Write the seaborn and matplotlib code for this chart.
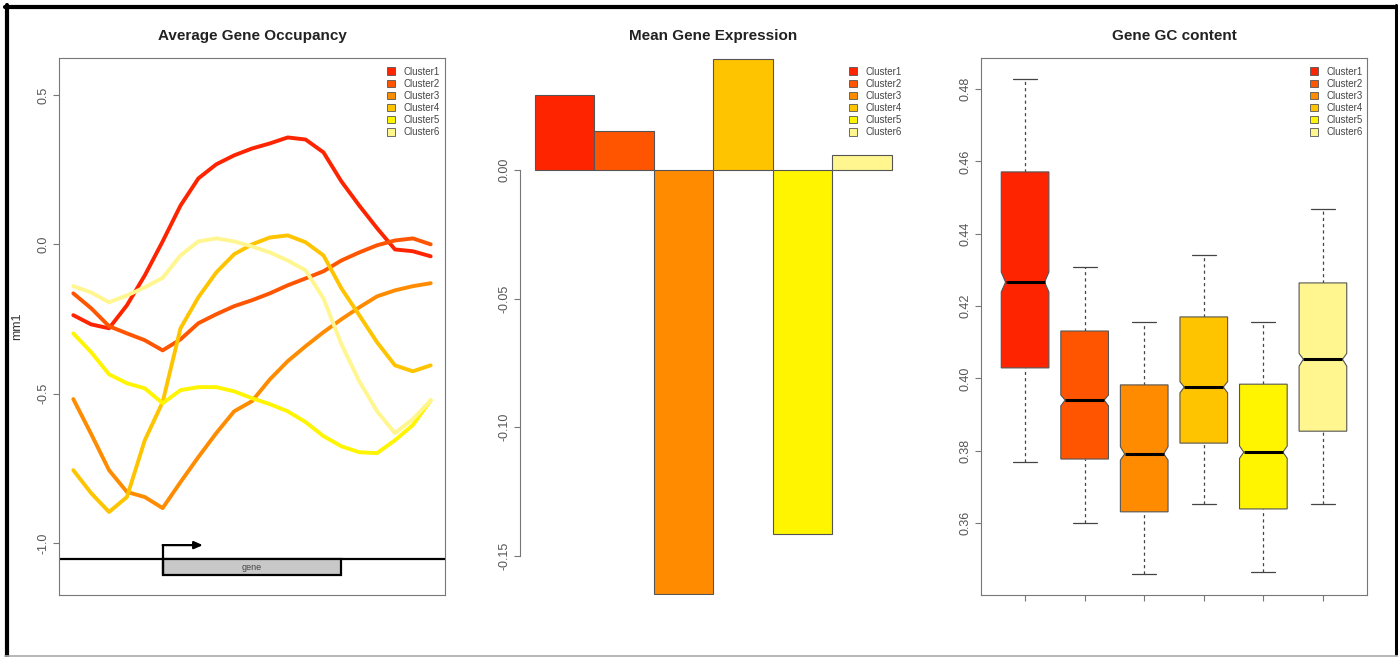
import matplotlib
matplotlib.use("Agg")
import matplotlib.pyplot as plt
from matplotlib.patches import Patch, Rectangle
from matplotlib.lines import Line2D
import pandas as pd
import seaborn as sns

# ---- data ----
clusters = ["Cluster1", "Cluster2", "Cluster3", "Cluster4", "Cluster5", "Cluster6"]
colors = ["#FF2400", "#FF5500", "#FF8C00", "#FFC400", "#FFF500", "#FFF68F"]

# average occupancy profiles (bp relative to gene start)
position = [-1000, -800, -600, -400, -200, 0, 200, 400, 600, 800, 1000,
            1200, 1400, 1600, 1800, 2000, 2200, 2400, 2600, 2800, 3000]
occ_c1 = [-0.237, -0.268, -0.281, -0.204, -0.104, 0.010, 0.130, 0.221, 0.268, 0.298, 0.321,
          0.338, 0.358, 0.351, 0.308, 0.211, 0.130, 0.054, -0.017, -0.023, -0.040]
occ_c2 = [-0.164, -0.214, -0.274, -0.298, -0.321, -0.355, -0.318, -0.264, -0.234, -0.207, -0.187,
          -0.164, -0.137, -0.114, -0.090, -0.054, -0.027, -0.003, 0.013, 0.020, 0.000]
occ_c3 = [-0.518, -0.635, -0.756, -0.829, -0.846, -0.883, -0.796, -0.712, -0.632, -0.559, -0.525,
          -0.452, -0.391, -0.341, -0.294, -0.251, -0.211, -0.174, -0.154, -0.140, -0.130]
occ_c4 = [-0.756, -0.833, -0.896, -0.846, -0.656, -0.528, -0.281, -0.177, -0.094, -0.033, 0.000,
          0.023, 0.030, 0.007, -0.037, -0.147, -0.237, -0.328, -0.405, -0.425, -0.405]
occ_c5 = [-0.298, -0.361, -0.435, -0.465, -0.482, -0.532, -0.488, -0.478, -0.478, -0.492, -0.515,
          -0.535, -0.559, -0.595, -0.642, -0.676, -0.696, -0.699, -0.656, -0.605, -0.522]
occ_c6 = [-0.140, -0.161, -0.194, -0.171, -0.144, -0.112, -0.037, 0.010, 0.020, 0.010, -0.007,
          -0.027, -0.054, -0.087, -0.181, -0.334, -0.458, -0.559, -0.632, -0.585, -0.522]
occupancy = [occ_c1, occ_c2, occ_c3, occ_c4, occ_c5, occ_c6]

# mean expression per cluster
expression = [0.0291, 0.0152, -0.1648, 0.0432, -0.1415, 0.0058]

# GC content box statistics
gc_whislo = [0.3769, 0.3600, 0.3459, 0.3653, 0.3465, 0.3653]
gc_q1 = [0.4029, 0.3777, 0.3631, 0.3821, 0.3639, 0.3854]
gc_med = [0.4266, 0.3940, 0.3791, 0.3976, 0.3796, 0.4053]
gc_q3 = [0.4571, 0.4131, 0.3982, 0.4170, 0.3984, 0.4264]
gc_whishi = [0.4828, 0.4308, 0.4156, 0.4341, 0.4156, 0.4468]
gc_cilo = [0.4239, 0.3924, 0.3774, 0.3960, 0.3779, 0.4034]
gc_cihi = [0.4294, 0.3954, 0.3811, 0.3991, 0.3813, 0.4069]

# ---- style ----
sns.set_style("white")
plt.rcParams["font.family"] = ["Liberation Sans", "DejaVu Sans"]

W, H = 1398, 657
fig = plt.figure(figsize=(W / 100, H / 100), dpi=100)


def panel(left_px):
    return fig.add_axes([left_px / W, (H - 595) / H, 386 / W, 537 / H])


ax1 = panel(59)
ax2 = panel(520)
ax3 = panel(981)

frame_col = "#777777"
tick_lab_col = "#555555"


def style_axis(ax, yticks, ylabels):
    ax.set_yticks(yticks)
    ax.set_yticklabels(ylabels, rotation=90, va="center")
    ax.tick_params(axis="y", left=True, length=4.3, width=0.8, color=frame_col,
                   labelsize=9, labelcolor=tick_lab_col, pad=2.5)
    for s in ax.spines.values():
        s.set_color(frame_col)
        s.set_linewidth(0.8)


def add_legend(ax, x):
    handles = [Patch(facecolor=c, edgecolor="#555555", linewidth=0.6, label=l)
               for c, l in zip(colors, clusters)]
    ax.legend(handles=handles, loc="upper right", bbox_to_anchor=(x, 0.984),
              frameon=False, fontsize=7, handlelength=0.85, handleheight=0.8,
              handletextpad=0.9, labelspacing=0.22, borderpad=0, borderaxespad=0,
              labelcolor="#444444")


def add_title(ax, text):
    ax.set_title(text, fontsize=11, fontweight="bold", pad=13, color="#222222")


# ---- panel 1: occupancy lines ----
occ_df = pd.DataFrame({
    "position": position * len(clusters),
    "mm1": [v for series in occupancy for v in series],
    "cluster": [c for c in clusters for _ in position],
})
sns.lineplot(data=occ_df, x="position", y="mm1", hue="cluster", palette=colors,
             linewidth=2.8, legend=False, errorbar=None, ax=ax1)

# gene diagram
gene_y = -1.0545
ax1.axhline(gene_y, color="black", lw=1.6)
ax1.add_patch(Rectangle((0, -1.107), 2000, gene_y + 1.107, facecolor="#c8c8c8",
                        edgecolor="black", lw=1.6, zorder=3))
ax1.plot([0, 0], [-1.107, -1.007], color="black", lw=1.6, zorder=4)
ax1.annotate("", xy=(450, -1.007), xytext=(0, -1.007),
             arrowprops=dict(arrowstyle="-|>,head_length=0.5,head_width=0.22",
                             color="black", lw=1.6, shrinkA=0, shrinkB=0), zorder=4)
ax1.text(1000, -1.082, "gene", ha="center", va="center", fontsize=6.5,
         color="#444444", zorder=5)

ax1.set_xlim(-1160, 3160)
ax1.set_ylim(-1.174, 0.624)
ax1.set_xticks([])
ax1.set_xlabel("")
style_axis(ax1, [-1.0, -0.5, 0.0, 0.5], ["-1.0", "-0.5", "0.0", "0.5"])
ax1.set_ylabel("mm1", fontsize=9, color="#333333", va="center")
ax1.yaxis.set_label_coords(-0.109, 0.5)
add_title(ax1, "Average Gene Occupancy")
add_legend(ax1, 0.987)

# ---- panel 2: mean expression bars ----
sns.barplot(x=clusters, y=expression, hue=clusters, palette=colors, width=1.0,
            saturation=1, edgecolor="#555555", linewidth=0.8, legend=False, ax=ax2)
ax2.set_xlim(-0.75, 5.74)
ax2.set_ylim(-0.1652, 0.0435)
ax2.set_xticks([])
ax2.set_xlabel("")
ax2.set_ylabel("")
style_axis(ax2, [-0.15, -0.10, -0.05, 0.00], ["-0.15", "-0.10", "-0.05", "0.00"])
for side in ("top", "right", "bottom"):
    ax2.spines[side].set_visible(False)
ax2.spines["left"].set_bounds(-0.15, 0.0)
add_title(ax2, "Mean Gene Expression")
add_legend(ax2, 0.990)

# ---- panel 3: notched boxplots ----
half_w = 0.4
notch_w = 0.4 * 0.82
for i in range(len(clusters)):
    x = i + 1
    xs = [x - half_w, x + half_w, x + half_w, x + notch_w, x + half_w, x + half_w,
          x - half_w, x - half_w, x - notch_w, x - half_w]
    ys = [gc_q1[i], gc_q1[i], gc_cilo[i], gc_med[i], gc_cihi[i], gc_q3[i],
          gc_q3[i], gc_cihi[i], gc_med[i], gc_cilo[i]]
    ax3.fill(xs, ys, facecolor=colors[i], edgecolor="#555555", lw=0.8, zorder=3)
    ax3.plot([x - notch_w, x + notch_w], [gc_med[i], gc_med[i]], color="black",
             lw=2.2, solid_capstyle="butt", zorder=4)
    for a, b in ((gc_whislo[i], gc_q1[i]), (gc_q3[i], gc_whishi[i])):
        ax3.plot([x, x], [a, b], color="#444444", lw=0.9, ls=(0, (2.5, 2.5)), zorder=2)
    for w in (gc_whislo[i], gc_whishi[i]):
        ax3.plot([x - 0.2, x + 0.2], [w, w], color="#444444", lw=0.9, zorder=2)

ax3.set_xlim(0.26, 6.74)
ax3.set_ylim(0.3401, 0.4886)
ax3.set_xticks(range(1, 7))
ax3.set_xticklabels([])
ax3.tick_params(axis="x", bottom=True, length=4.3, width=0.8, color=frame_col)
style_axis(ax3, [0.36, 0.38, 0.40, 0.42, 0.44, 0.46, 0.48],
           ["0.36", "0.38", "0.40", "0.42", "0.44", "0.46", "0.48"])
add_title(ax3, "Gene GC content")
add_legend(ax3, 0.990)

# ---- outer border ----
def fig_line(xs, ys, color, lw):
    fig.add_artist(Line2D([x / W for x in xs], [1 - y / H for y in ys],
                          color=color, lw=lw, transform=fig.transFigure))


fig_line([5, 1398], [6.5, 6.5], "black", 3)
fig_line([7, 7], [5, 657], "black", 3)
fig_line([1395.5, 1395.5], [5, 654], "black", 2.2)
fig_line([5, 1398], [655.5, 655.5], "#aaaaaa", 1.2)

fig.savefig("out.png", dpi=100)
